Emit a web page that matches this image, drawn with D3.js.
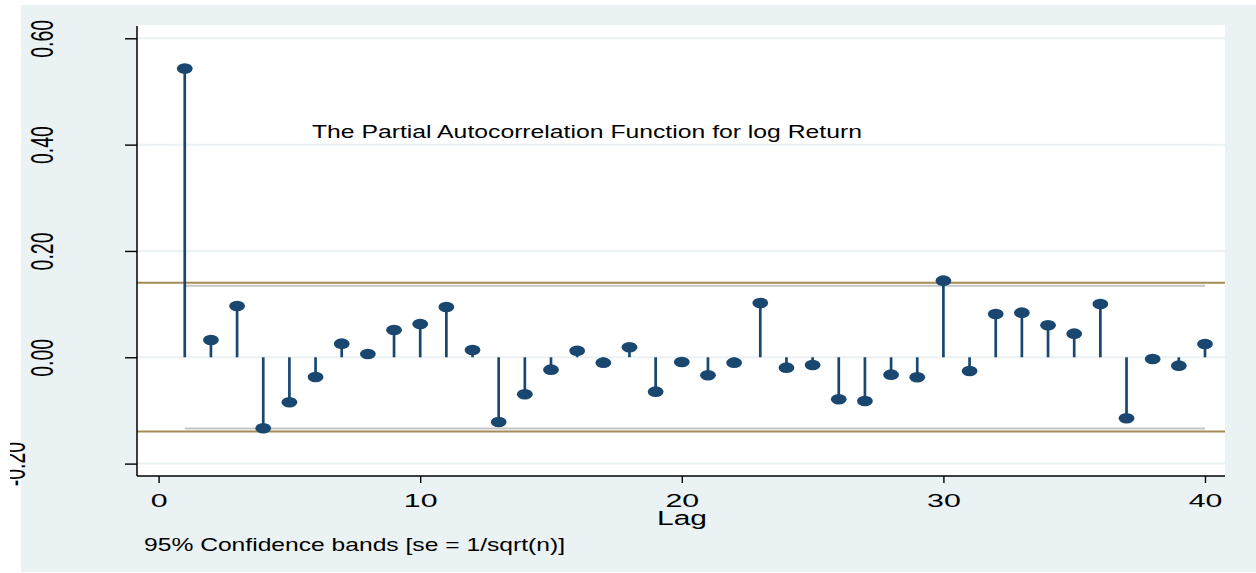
<!DOCTYPE html>
<html><head><meta charset="utf-8">
<script src="https://cdn.jsdelivr.net/npm/d3@7"></script>
<style>body{margin:0;background:#fff}svg{display:block}text{font-family:"Liberation Sans",Arial,Helvetica,sans-serif}</style>
</head><body>
<svg id="chart" width="1256" height="573"></svg>
<script>
// ---- data ----
const lags = [1,2,3,4,5,6,7,8,9,10,11,12,13,14,15,16,17,18,19,20,21,22,23,24,25,26,27,28,29,30,31,32,33,34,35,36,37,38,39,40];
const pacValues = [0.543,0.0325,0.0965,-0.1335,-0.0846,-0.037,0.0256,0.0062,0.0513,0.0626,
  0.0946,0.0137,-0.1217,-0.0696,-0.0233,0.0124,-0.0101,0.0188,-0.0647,-0.0088,
  -0.0339,-0.0101,0.102,-0.0195,-0.0145,-0.079,-0.0822,-0.0327,-0.0376,0.1441,
  -0.0258,0.0814,0.0839,0.0602,0.0444,0.1002,-0.1147,-0.0032,-0.0158,0.025];
const confBandOuter = [-0.1395, 0.1402];
const confBandInner = [-0.1338, 0.1345];
const yTicks = [-0.2, 0, 0.2, 0.4, 0.6];
const yTickLabels = ["-0.20","0.00","0.20","0.40","0.60"];
const xTicks = [0, 10, 20, 30, 40];
const xTickLabels = ["0","10","20","30","40"];
const titleText = "The Partial Autocorrelation Function for log Return";
const xAxisTitle = "Lag";
const noteText = "95% Confidence bands [se = 1/sqrt(n)]";

// ---- layout ----
const W = 1256, H = 573;
const plot = {left:137, right:1225, top:25, bottom:476};
const navy = "#1a476f", bg = "#eaf2f3";

const svg = d3.select("#chart");
const x = d3.scaleLinear().domain([0,40]).range([158.6,1205]);
const y = d3.scaleLinear().domain([-0.2,0.6]).range([463.6,38.3]);

svg.append("rect").attr("x",21).attr("y",5).attr("width",W-21).attr("height",H-6).attr("fill",bg);
svg.append("rect").attr("x",plot.left).attr("y",plot.top).attr("width",plot.right-plot.left).attr("height",plot.bottom-plot.top).attr("fill","#fff");

// gridlines
svg.append("g").selectAll("line").data(yTicks).join("line")
  .attr("x1",plot.left).attr("x2",plot.right)
  .attr("y1",d=>y(d)).attr("y2",d=>y(d))
  .attr("stroke",bg).attr("stroke-width",2);

// confidence band lines
svg.append("g").selectAll("line").data(confBandInner).join("line")
  .attr("x1",x(lags[0])).attr("x2",x(lags[lags.length-1]))
  .attr("y1",d=>y(d)).attr("y2",d=>y(d))
  .attr("stroke","#c6c6c6").attr("stroke-width",2);
svg.append("g").selectAll("line").data(confBandOuter).join("line")
  .attr("x1",plot.left).attr("x2",plot.right)
  .attr("y1",d=>y(d)).attr("y2",d=>y(d))
  .attr("stroke","#a38d55").attr("stroke-width",2);

// stems
const pts = lags.map((l,i)=>({lag:l, v:pacValues[i]}));
svg.append("g").selectAll("line").data(pts).join("line")
  .attr("x1",d=>x(d.lag)).attr("x2",d=>x(d.lag))
  .attr("y1",y(0)).attr("y2",d=>y(d.v))
  .attr("stroke",navy).attr("stroke-width",2.7);
svg.append("g").selectAll("ellipse").data(pts).join("ellipse")
  .attr("cx",d=>x(d.lag)).attr("cy",d=>y(d.v))
  .attr("rx",7.9).attr("ry",5.3).attr("fill",navy);

// axes lines
svg.append("line").attr("x1",plot.left).attr("x2",plot.left).attr("y1",plot.top+1).attr("y2",plot.bottom)
  .attr("stroke","#000").attr("stroke-width",1.5);
svg.append("line").attr("x1",plot.left).attr("x2",plot.right).attr("y1",plot.bottom).attr("y2",plot.bottom)
  .attr("stroke","#000").attr("stroke-width",1.5);

// x axis
const gx = svg.append("g").attr("transform",`translate(0,${plot.bottom})`)
  .call(d3.axisBottom(x).tickValues(xTicks).tickSize(7).tickFormat((d,i)=>xTickLabels[i]));
gx.select(".domain").remove();
gx.selectAll(".tick line").attr("stroke","#000").attr("stroke-width",1.4);
gx.selectAll(".tick text").attr("y",0).attr("dy",null)
  .attr("transform","translate(0,31) scale(1.62,1)")
  .attr("font-size",18.7).attr("fill","#000").attr("font-family",'"Liberation Sans",Arial,sans-serif');

// y axis
const clip = svg.append("defs").append("clipPath").attr("id","yclip");
clip.append("rect").attr("x",10).attr("y",0).attr("width",W).attr("height",H);
const gyWrap = svg.append("g").attr("clip-path","url(#yclip)");
const gy = gyWrap.append("g").attr("transform",`translate(${plot.left},0)`)
  .call(d3.axisLeft(y).tickValues(yTicks).tickSize(12).tickFormat((d,i)=>yTickLabels[i]));
gy.select(".domain").remove();
gy.selectAll(".tick line").attr("stroke","#000").attr("stroke-width",1.4);
gy.selectAll(".tick text").attr("x",0).attr("y",0).attr("dy",null)
  .attr("text-anchor","middle")
  .attr("transform",d=> d < 0 ? "translate(-112,0) scale(1.65,1) rotate(-90)" : "translate(-84,0) scale(1.65,1) rotate(-90)")
  .attr("font-size",19.5).attr("fill","#000").attr("font-family",'"Liberation Sans",Arial,sans-serif');

// titles
svg.append("text").attr("x",587).attr("y",138).attr("text-anchor","middle")
  .attr("font-size",17.5).attr("textLength",550).attr("lengthAdjust","spacingAndGlyphs")
  .attr("fill","#000").text(titleText);
svg.append("text").attr("x",682).attr("y",525).attr("text-anchor","middle")
  .attr("font-size",19.5).attr("textLength",50).attr("lengthAdjust","spacingAndGlyphs")
  .attr("fill","#000").text(xAxisTitle);
svg.append("text").attr("x",144).attr("y",551)
  .attr("font-size",17.7).attr("textLength",421).attr("lengthAdjust","spacingAndGlyphs")
  .attr("fill","#000").text(noteText);
</script>
</body></html>
